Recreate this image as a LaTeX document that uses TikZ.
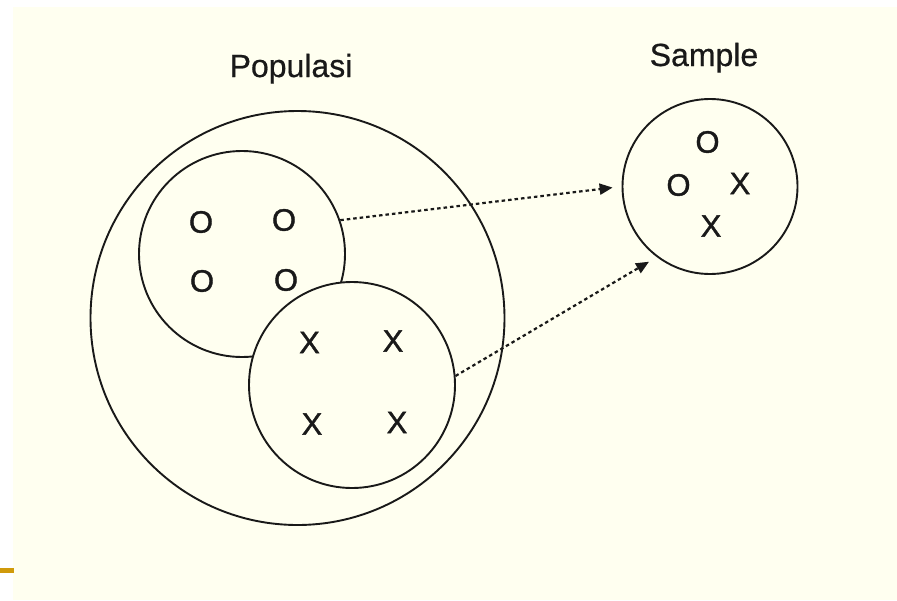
\documentclass[tikz,border=0pt]{standalone}
\usepackage{fontspec}
\setmainfont{Liberation Sans}
\newfontfamily\symfont[FakeBold=1.2]{Liberation Sans}
\newfontfamily\lblfont[FakeBold=0.6]{Liberation Sans}
\usetikzlibrary{arrows.meta}
\definecolor{paper}{RGB}{255,255,240}
\definecolor{ink}{RGB}{25,25,25}
\definecolor{gold}{RGB}{208,154,10}
\tikzset{
  ring/.style={circle, draw=ink, line width=1.9pt, inner sep=0pt, fill=paper},
  sym/.style={inner sep=0pt, font=\symfont\fontsize{31}{31}\selectfont, text=ink},
  lbl/.style={inner sep=0pt, anchor=base, font=\lblfont\fontsize{32}{32}\selectfont, text=ink},
  dotarrow/.style={draw=ink, line width=2.2pt, dash pattern=on 3.5pt off 3pt,
    -{Triangle[length=13pt,width=11pt]}, shorten >=9pt}
}
\begin{document}
\begin{tikzpicture}[x=1pt,y=-1pt]
\useasboundingbox (0,0) rectangle (897,600);
\fill[white] (0,0) rectangle (897,600);
\fill[paper] (13,7) rectangle (897,600);
\fill[gold] (0,568) rectangle (14,573);

\node[ring, minimum size=414pt] (pop) at (297.5,318) {};
\node[ring, minimum size=206pt] (up) at (242,254) {};
\node[ring, minimum size=206pt] (low) at (352,385) {};
\node[ring, minimum size=175pt] (samp) at (710,186.5) {};

\node[lbl] (tpop) at (291,77) {Populasi};
\node[lbl] (tsamp) at (704,66) {Sample};

\node[sym] (o1) at (201,222) {O};
\node[sym] (o2) at (284,220) {O};
\node[sym] (o3) at (202,281) {O};
\node[sym] (o4) at (286,280) {O};
\node[sym] (x1) at (309.5,342.5) {X};
\node[sym] (x2) at (393,341) {X};
\node[sym] (x3) at (312,424) {X};
\node[sym] (x4) at (397,422.5) {X};

\node[sym] (so1) at (707.5,142) {O};
\node[sym] (so2) at (678.5,185) {O};
\node[sym] (sx1) at (740,183.5) {X};
\node[sym] (sx2) at (711,226) {X};

\draw[dotarrow] (up.19) -- (samp.west);
\draw[dotarrow] (low.5) -- (samp.233);
\end{tikzpicture}
\end{document}
